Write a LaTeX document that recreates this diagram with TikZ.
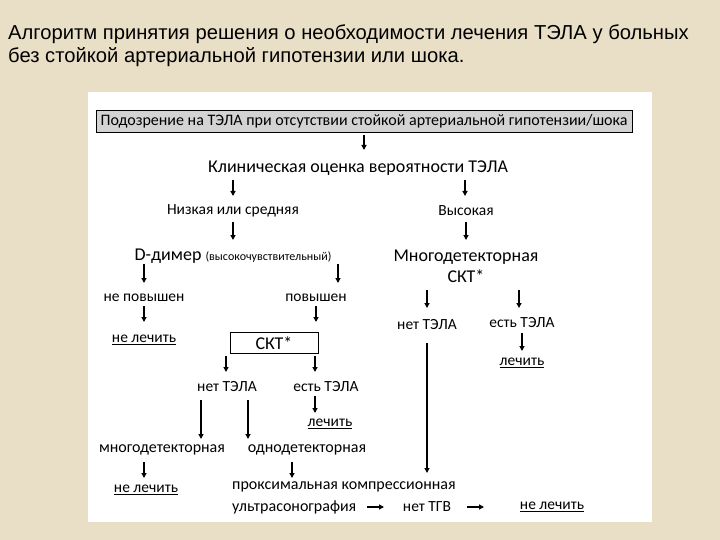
\documentclass[tikz,border=0pt]{standalone}
\usepackage{fontspec}
\setmainfont{Carlito}
\newfontfamily\titlefont{Liberation Sans}
\usetikzlibrary{arrows.meta}
\definecolor{bg}{HTML}{E9DFC6}
\definecolor{boxgray}{HTML}{D3D3D3}
\tikzset{
  txt/.style={font=\fontsize{15.5}{17}\selectfont, inner sep=1pt},
  big/.style={font=\fontsize{18}{21}\selectfont, inner sep=1pt},
  mid/.style={font=\fontsize{16}{19}\selectfont, inner sep=1pt},
  arr/.style={-{Triangle[length=5pt,width=5pt]}, line width=1.4pt},
}
\newcommand{\ulx}[1]{\underline{#1}}
\begin{document}
\begin{tikzpicture}[x=1pt,y=-1pt]
\useasboundingbox (0,0) rectangle (720,540);
\fill[bg] (0,0) rectangle (720,540);
\fill[white] (88,92) rectangle (652,522);
\node[anchor=north west, align=left, font=\titlefont\fontsize{20.2}{23}\selectfont, inner sep=0pt] (title) at (8,24)
 {Алгоритм принятия решения о необходимости лечения ТЭЛА у больных\\без стойкой артериальной гипотензии или шока.};
\node[draw, fill=boxgray, minimum width=536, minimum height=22, inner sep=1pt, font=\fontsize{16}{17}\selectfont] (top) at (364,121) {Подозрение на ТЭЛА при отсутствии стойкой артериальной гипотензии/шока};
\node[big] (clin) at (358,168) {Клиническая оценка вероятности ТЭЛА};
\node[txt] (low) at (233,211) {Низкая или средняя};
\node[txt] (high) at (466,211) {Высокая};
\node[big] (dd) at (233,256) {D-димер {\fontsize{12}{14}\selectfont(высокочувствительный)}};
\node[big, align=center] (mskt) at (466,266) {Многодетекторная\\СКТ*};
\node[txt] (nepov) at (144,298) {не повышен};
\node[txt] (pov) at (316,298) {повышен};
\node[txt] (nl1) at (144,340) {\ulx{не лечить}};
\node[draw, line width=0.8pt, minimum width=88, minimum height=21, big] (skt) at (274,343) {СКТ*};
\node[txt] (net1) at (427,325) {нет ТЭЛА};
\node[txt] (est1) at (522,323) {есть ТЭЛА};
\node[txt] (l1) at (522,363) {\ulx{лечить}};
\node[txt] (net2) at (227,387) {нет ТЭЛА};
\node[txt] (est2) at (326,387) {есть ТЭЛА};
\node[txt] (l2) at (330,424) {\ulx{лечить}};
\node[mid] (mdet) at (162,450) {многодетекторная};
\node[mid] (odet) at (307,450) {однодетекторная};
\node[txt] (nl2) at (146,490) {\ulx{не лечить}};
\node[mid, anchor=west] (prox) at (231,487) {проксимальная компрессионная};
\node[mid, anchor=west] (usg) at (231,507) {ультрасонография};
\node[txt] (ntgv) at (427,507) {нет ТГВ};
\node[txt] (nl3) at (552,507) {\ulx{не лечить}};
\draw[arr] (364,135) -- (364,150);
\draw[arr] (233,180) -- (233,196);
\draw[arr] (465,180) -- (465,196);
\draw[arr] (233,222) -- (233,240);
\draw[arr] (466,222) -- (466,240);
\draw[arr] (144,264) -- (144,283);
\draw[arr] (338,264) -- (338,283);
\draw[arr] (427,290) -- (427,308);
\draw[arr] (519,290) -- (519,308);
\draw[arr] (144,306) -- (144,322);
\draw[arr] (316,306) -- (316,322);
\draw[arr] (427,343) -- (427,473);
\draw[arr] (522,333) -- (522,351);
\draw[arr] (226,356) -- (226,372);
\draw[arr] (315,356) -- (315,372);
\draw[arr] (201,400) -- (201,439);
\draw[arr] (248,400) -- (248,439);
\draw[arr] (315,396) -- (315,413);
\draw[arr] (144,462) -- (144,478);
\draw[arr] (292,462) -- (292,478);
\draw[arr] (367,507) -- (384,507);
\draw[arr] (467,507) -- (484,507);
\end{tikzpicture}
\end{document}
